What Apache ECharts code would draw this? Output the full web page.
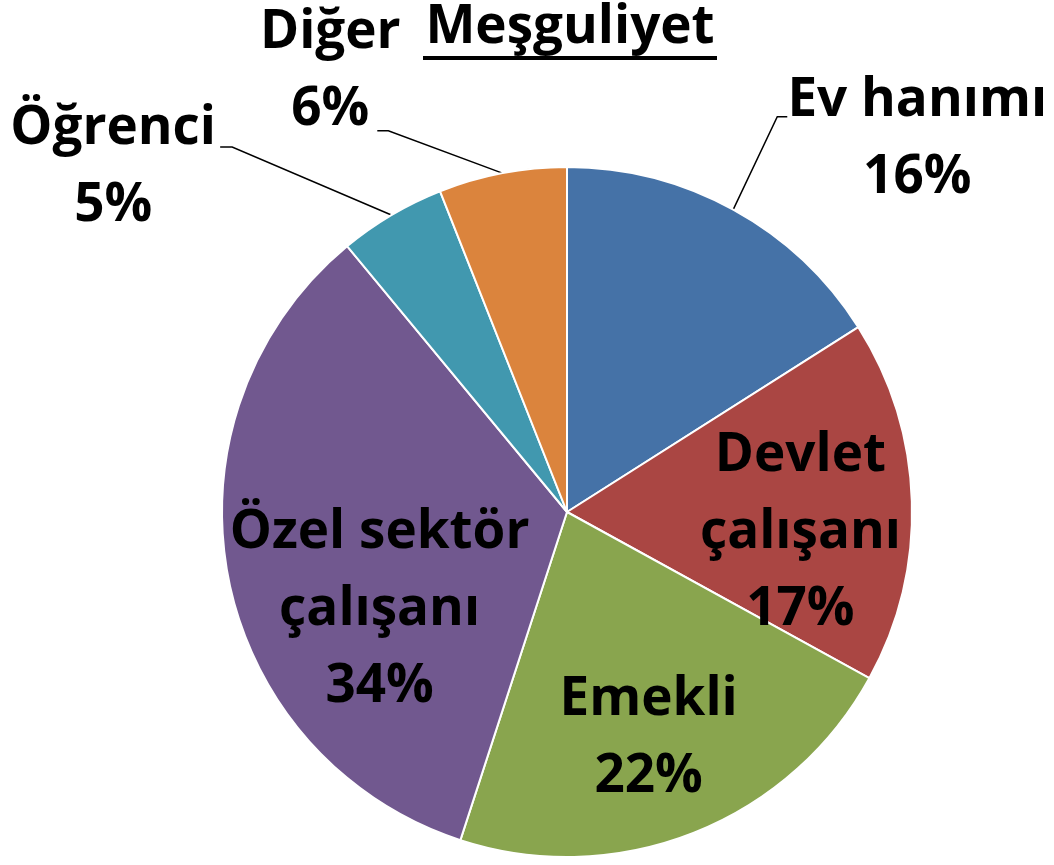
<!DOCTYPE html>
<html>
<head>
<meta charset="utf-8">
<script src="https://cdn.jsdelivr.net/npm/echarts@6/dist/echarts.min.js"></script>
<style>
html,body{margin:0;padding:0;background:#ffffff;}
#chart{width:1054px;height:865px;}
</style>
</head>
<body>
<div id="chart"></div>
<script>
// ---- data ----
const titleText = 'Meşguliyet';
const categories = ['Ev hanımı', 'Devlet çalışanı', 'Emekli', 'Özel sektör çalışanı', 'Öğrenci', 'Diğer'];
const values = [16, 17, 22, 34, 5, 6];

// ---- styles / label layout (not data) ----
const colors = ['#4572A7', '#AA4643', '#89A54E', '#71588F', '#4198AF', '#DB843D'];
const labelCfg = [
  { pos: 'outside', len: 106, len2: 3,   dx: 125,  dy: 23,  elbow: 10 },
  { pos: 'inside',  dx: 58,  dy: 26 },
  { pos: 'inside',  dx: 17,  dy: 63 },
  { pos: 'inside',  dx: -15, dy: 65 },
  { pos: 'outside', len: 79,  len2: 131, dx: -102, dy: 20,  elbow: 12 },
  { pos: 'outside', len: 43,  len2: 117, dx: -42,  dy: -59, elbow: 11 }
];
const FONT = '"Open Sans", "Noto Sans", sans-serif';

const pieData = categories.map((name, i) => {
  const c = labelCfg[i];
  return {
    name: name,
    value: values[i],
    itemStyle: { color: colors[i] },
    label: { show: true, position: c.pos },
    labelLine: { show: c.pos === 'outside', length: c.len || 0, length2: c.len2 || 0 }
  };
});

const chart = echarts.init(document.getElementById('chart'), null, { renderer: 'canvas' });
chart.setOption({
  backgroundColor: '#ffffff',
  animation: false,
  title: {
    text: '{t|' + titleText + '}\n{u| }',
    left: 423,
    top: 0,
    padding: 0,
    textStyle: {
      rich: {
        t: { fontSize: 53, fontWeight: 'bold', fontFamily: FONT, color: '#000', lineHeight: 56, align: 'center' },
        u: { width: 294, height: 4, lineHeight: 4, fontSize: 1, backgroundColor: '#000', align: 'center' }
      }
    }
  },
  series: [{
    type: 'pie',
    center: [567, 512],
    radius: 345,
    startAngle: 90,
    clockwise: true,
    avoidLabelOverlap: false,
    silent: true,
    emphasis: { disabled: true },
    itemStyle: { borderColor: '#ffffff', borderWidth: 2 },
    label: {
      color: '#000',
      fontSize: 53,
      fontWeight: 'bold',
      fontFamily: FONT,
      lineHeight: 77,
      formatter: function (p) {
        return p.name.replace(' çalışanı', '\nçalışanı') + '\n' + Math.round(p.percent) + '%';
      }
    },
    labelLine: { smooth: false, lineStyle: { color: '#000', width: 1.5 } },
    labelLayout: function (params) {
      const c = labelCfg[params.dataIndex];
      const out = { dx: c.dx, dy: c.dy };
      if (c.pos === 'outside' && params.labelLinePoints && params.labelLinePoints.length === 3) {
        const p = params.labelLinePoints;
        const p0 = p[0], p2 = p[2];
        const s = p2[0] < p0[0] ? 1 : -1;
        out.labelLinePoints = [p0, [p2[0] + s * c.elbow, p2[1]], p2];
        out.align = 'center';
      }
      return out;
    },
    data: pieData
  }]
});
</script>
</body>
</html>
